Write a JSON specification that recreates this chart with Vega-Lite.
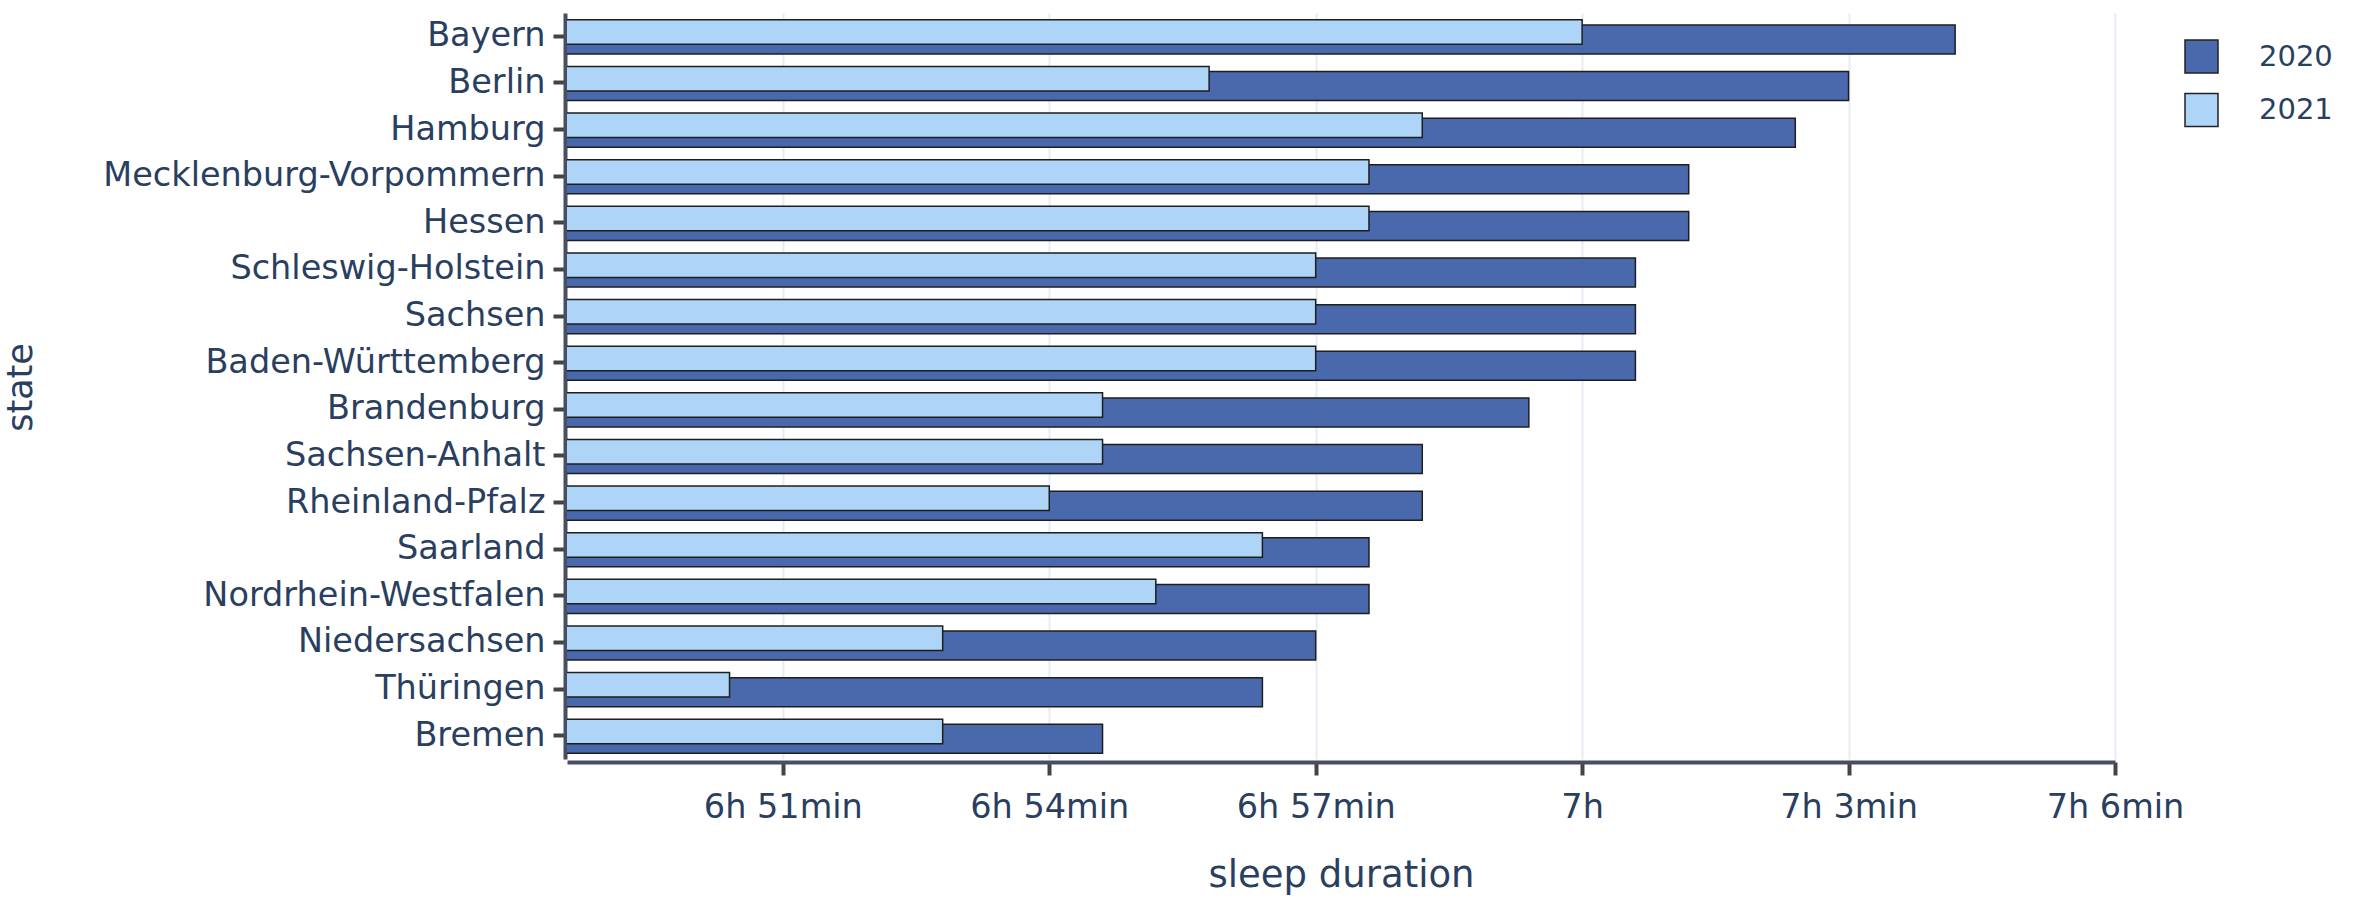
{
  "$schema": "https://vega.github.io/schema/vega-lite/v6.json",
  "width": 1548,
  "height": 746,
  "autosize": {"type": "none"},
  "padding": {"left": 567, "top": 13, "right": 249, "bottom": 152},
  "background": "white",
  "config": {"view": {"stroke": null}, "font": "DejaVu Sans"},
  "data": {
    "values": [
      {"state": "Bayern", "year": "2020", "minutes": 424.2},
      {"state": "Bayern", "year": "2021", "minutes": 420.0},
      {"state": "Berlin", "year": "2020", "minutes": 423.0},
      {"state": "Berlin", "year": "2021", "minutes": 415.8},
      {"state": "Hamburg", "year": "2020", "minutes": 422.4},
      {"state": "Hamburg", "year": "2021", "minutes": 418.2},
      {"state": "Mecklenburg-Vorpommern", "year": "2020", "minutes": 421.2},
      {"state": "Mecklenburg-Vorpommern", "year": "2021", "minutes": 417.6},
      {"state": "Hessen", "year": "2020", "minutes": 421.2},
      {"state": "Hessen", "year": "2021", "minutes": 417.6},
      {"state": "Schleswig-Holstein", "year": "2020", "minutes": 420.6},
      {"state": "Schleswig-Holstein", "year": "2021", "minutes": 417.0},
      {"state": "Sachsen", "year": "2020", "minutes": 420.6},
      {"state": "Sachsen", "year": "2021", "minutes": 417.0},
      {"state": "Baden-Württemberg", "year": "2020", "minutes": 420.6},
      {"state": "Baden-Württemberg", "year": "2021", "minutes": 417.0},
      {"state": "Brandenburg", "year": "2020", "minutes": 419.4},
      {"state": "Brandenburg", "year": "2021", "minutes": 414.6},
      {"state": "Sachsen-Anhalt", "year": "2020", "minutes": 418.2},
      {"state": "Sachsen-Anhalt", "year": "2021", "minutes": 414.6},
      {"state": "Rheinland-Pfalz", "year": "2020", "minutes": 418.2},
      {"state": "Rheinland-Pfalz", "year": "2021", "minutes": 414.0},
      {"state": "Saarland", "year": "2020", "minutes": 417.6},
      {"state": "Saarland", "year": "2021", "minutes": 416.4},
      {"state": "Nordrhein-Westfalen", "year": "2020", "minutes": 417.6},
      {"state": "Nordrhein-Westfalen", "year": "2021", "minutes": 415.2},
      {"state": "Niedersachsen", "year": "2020", "minutes": 417.0},
      {"state": "Niedersachsen", "year": "2021", "minutes": 412.8},
      {"state": "Thüringen", "year": "2020", "minutes": 416.4},
      {"state": "Thüringen", "year": "2021", "minutes": 410.4},
      {"state": "Bremen", "year": "2020", "minutes": 414.6},
      {"state": "Bremen", "year": "2021", "minutes": 412.8}
    ]
  },
  "encoding": {
    "y": {
      "field": "state",
      "type": "nominal",
      "sort": ["Bayern", "Berlin", "Hamburg", "Mecklenburg-Vorpommern", "Hessen", "Schleswig-Holstein", "Sachsen", "Baden-Württemberg", "Brandenburg", "Sachsen-Anhalt", "Rheinland-Pfalz", "Saarland", "Nordrhein-Westfalen", "Niedersachsen", "Thüringen", "Bremen"],
      "scale": {"paddingInner": 0, "paddingOuter": 0},
      "axis": {
        "title": "state",
        "titleFontSize": 35,
        "titleFontWeight": "normal",
        "titleColor": "#2a3f5f",
        "titleX": -534,
        "titleY": 374,
        "titleAngle": -90,
        "titleAlign": "center",
        "titleBaseline": "alphabetic",
        "labelFontSize": 33.5,
        "labelColor": "#2a3f5f",
        "labelPadding": 8,
        "labelLimit": 0,
        "tickSize": 12,
        "tickWidth": 4,
        "tickColor": "#444444",
        "domainColor": "#474f60",
        "domainWidth": 4,
        "offset": 2,
        "grid": false
      }
    },
    "x": {
      "field": "minutes",
      "type": "quantitative",
      "scale": {"domain": [408.57, 426], "nice": false, "zero": false},
      "axis": {
        "title": "sleep duration",
        "titleFontSize": 37,
        "titleFontWeight": "normal",
        "titleColor": "#2a3f5f",
        "titlePadding": 34,
        "values": [411, 414, 417, 420, 423, 426],
        "labelExpr": "floor(datum.value / 60) + 'h' + (datum.value % 60 ? ' ' + (datum.value % 60) + 'min' : '')",
        "labelFontSize": 33.5,
        "labelColor": "#2a3f5f",
        "labelPadding": 16,
        "labelFlush": false,
        "labelOverlap": false,
        "labelLimit": 0,
        "tickSize": 13,
        "tickWidth": 4,
        "tickColor": "#444444",
        "domainColor": "#474f60",
        "domainWidth": 4,
        "offset": 3,
        "grid": true,
        "gridColor": "#E6ECF5",
        "gridWidth": 2
      }
    },
    "color": {
      "field": "year",
      "type": "nominal",
      "scale": {"domain": ["2020", "2021"], "range": ["#4A69AC", "#AED5F8"]},
      "legend": {
        "title": null,
        "orient": "none",
        "legendX": 1617,
        "legendY": 26,
        "padding": 0,
        "symbolType": "square",
        "symbolSize": 1089,
        "symbolStrokeColor": "#222222",
        "symbolStrokeWidth": 1.5,
        "symbolOpacity": 1,
        "labelFontSize": 29,
        "labelColor": "#2a3f5f",
        "labelOffset": 40,
        "rowPadding": 14.5
      }
    }
  },
  "layer": [
    {
      "transform": [{"filter": "datum.year == '2020'"}],
      "mark": {"type": "bar", "clip": true, "height": 29, "yOffset": 3.15, "stroke": "#1e1e1e", "strokeWidth": 1.5, "opacity": 1}
    },
    {
      "transform": [{"filter": "datum.year == '2021'"}],
      "mark": {"type": "bar", "clip": true, "height": 24.5, "yOffset": -4.25, "stroke": "#1e1e1e", "strokeWidth": 1.5, "opacity": 1}
    }
  ]
}
